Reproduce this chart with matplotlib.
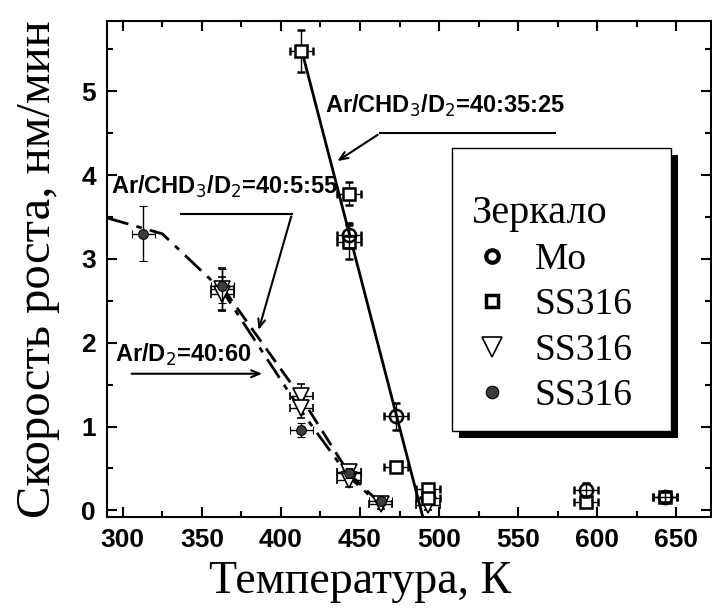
import matplotlib
matplotlib.use("Agg")
import matplotlib.pyplot as plt
from matplotlib.lines import Line2D
from matplotlib.patches import Rectangle

# growth rate vs. mirror temperature
mo_t = [443, 473, 593, 643]
mo_v = [3.28, 1.12, 0.24, 0.16]
mo_err = [0.15, 0.16, 0.08, 0.06]

sq_t = [413, 443, 443, 473, 493, 493, 593, 643]
sq_v = [5.48, 3.78, 3.20, 0.52, 0.25, 0.15, 0.10, 0.16]
sq_err = [0.25, 0.14, 0.20, 0.05, 0.06, 0.05, 0.06, 0.05]

tri_t = [363, 363, 413, 413, 443, 443, 463, 493]
tri_v = [2.64, 2.58, 1.36, 1.22, 0.46, 0.36, 0.07, 0.06]
tri_err = [0.25, 0.20, 0.15, 0.12, 0.08, 0.08, 0.06, 0.06]

ball_t = [313, 363, 413, 443, 463]
ball_v = [3.30, 2.68, 0.96, 0.45, 0.11]
ball_err = [0.33, 0.20, 0.08, 0.06, 0.05]

t_err = 7.5

# guide lines through each series
fit1_t = [413, 490]
fit1_v = [5.50, -0.10]
fit2_t = [363, 413, 443, 463]
fit2_v = [2.66, 1.34, 0.44, 0.08]
fit3_t = [290, 325, 363, 413, 443, 463]
fit3_v = [3.49, 3.30, 2.62, 1.18, 0.40, 0.06]

legend_labels = ['Mo', 'SS316', 'SS316', 'SS316']

tick_font = {'family': 'Liberation Sans', 'weight': 'bold', 'size': 19}
serif = 'Liberation Serif'

fig = plt.figure(figsize=(7.12, 6.08), dpi=100)
ax = fig.add_axes([107 / 712, 1 - 517 / 608, 604 / 712, 496 / 608])

ax.plot(fit1_t, fit1_v, color='k', lw=2, zorder=2)
ax.plot(fit2_t, fit2_v, color='k', lw=2, dashes=(6, 3), zorder=2)
ax.plot(fit3_t, fit3_v, color='k', lw=2, dashes=(8, 3, 2, 3), zorder=2)

eb = dict(ecolor='k', elinewidth=1, capsize=3, capthick=1, ls='none')
ax.errorbar(tri_t, tri_v, yerr=tri_err, xerr=t_err, marker='v', ms=11,
            mfc='white', mec='k', mew=1.2, zorder=3, **eb)
ax.errorbar(sq_t, sq_v, yerr=sq_err, xerr=t_err, marker='s', ms=8,
            mfc='white', mec='k', mew=1.8, zorder=4, **eb)
ax.errorbar(mo_t, mo_v, yerr=mo_err, xerr=t_err, marker='o', ms=9.5,
            mfc='none', mec='k', mew=1.8, zorder=5, **eb)
ax.errorbar(ball_t, ball_v, yerr=ball_err, xerr=t_err, marker='o', ms=7,
            mfc='#3c3c3c', mec='k', mew=0.8, zorder=6, **eb)

ax.set_xlim(290, 672)
ax.set_ylim(-0.08, 5.84)
ax.set_xticks(range(300, 651, 50))
ax.set_xticks(range(300, 671, 25), minor=True)
ax.set_yticks(range(0, 6))
ax.set_yticks([i + 0.5 for i in range(0, 6)], minor=True)
ax.tick_params(which='both', direction='in', top=True, right=True, width=1.5)
ax.tick_params(which='major', length=7, pad=8)
ax.tick_params(which='minor', length=4)
for lab in ax.get_xticklabels() + ax.get_yticklabels():
    lab.set_fontproperties(tick_font)
for sp in ax.spines.values():
    sp.set_linewidth(1.5)

ax.set_xlabel('Температура, К', family=serif, size=33)
ax.xaxis.set_label_coords(0.419, -0.088)
ax.set_ylabel('Скорость роста, нм/мин', family=serif, size=35)
ax.yaxis.set_label_coords(-0.078, 0.5)

# composition labels with leader lines
txt = dict(family='Liberation Sans', weight='bold', size=17)
arr = dict(arrowstyle='->,head_length=0.6,head_width=0.25', color='k', lw=1.5)

ax.text(427.8, 4.74, r'Ar/CHD$_3$/D$_2$=40:35:25', **txt)
ax.plot([462.7, 573.4], [4.50, 4.50], color='k', lw=1.5)
ax.annotate('', xy=(434.2, 4.15), xytext=(462.7, 4.50), arrowprops=arr)

ax.text(292.4, 3.78, r'Ar/CHD$_3$/D$_2$=40:5:55', **txt)
ax.plot([336.7, 407.0], [3.54, 3.54], color='k', lw=1.5)
ax.annotate('', xy=(385.4, 2.12), xytext=(407.0, 3.54), arrowprops=arr)

ax.text(295.0, 1.77, r'Ar/D$_2$=40:60', **txt)
ax.annotate('', xy=(389.9, 1.63), xytext=(303.8, 1.63), arrowprops=arr)

# legend box with an offset black shadow, drawn in axes fractions
box_x0, box_x1 = 0.5712, 0.9338
box_y0, box_y1 = 0.1734, 0.744
ax.add_patch(Rectangle((box_x0 + 0.0116, box_y0 - 0.0141), box_x1 - box_x0,
                       box_y1 - box_y0, transform=ax.transAxes, facecolor='k',
                       edgecolor='none', clip_on=False, zorder=4.8))
ax.add_patch(Rectangle((box_x0, box_y0), box_x1 - box_x0, box_y1 - box_y0,
                       transform=ax.transAxes, facecolor='white', edgecolor='k',
                       lw=1, clip_on=False, zorder=4.9))

handles = [
    Line2D([], [], ls='none', marker='o', ms=9, mfc='white', mec='k', mew=3),
    Line2D([], [], ls='none', marker='s', ms=8, mfc='white', mec='k', mew=2.5),
    Line2D([], [], ls='none', marker='v', ms=14, mfc='white', mec='k', mew=1.2),
    Line2D([], [], ls='none', marker='o', ms=9, mfc='#3c3c3c', mec='k', mew=0.8),
]
leg = ax.legend(handles, legend_labels, title='Зеркало', loc='upper left',
                bbox_to_anchor=(0.604, 0.650), borderaxespad=0, borderpad=0,
                prop={'family': serif, 'size': 27},
                title_fontproperties={'family': serif, 'size': 29},
                alignment='left', frameon=False,
                handlelength=1.07, handletextpad=0.6, labelspacing=0.29)

fig.savefig('out.png', dpi=100)
